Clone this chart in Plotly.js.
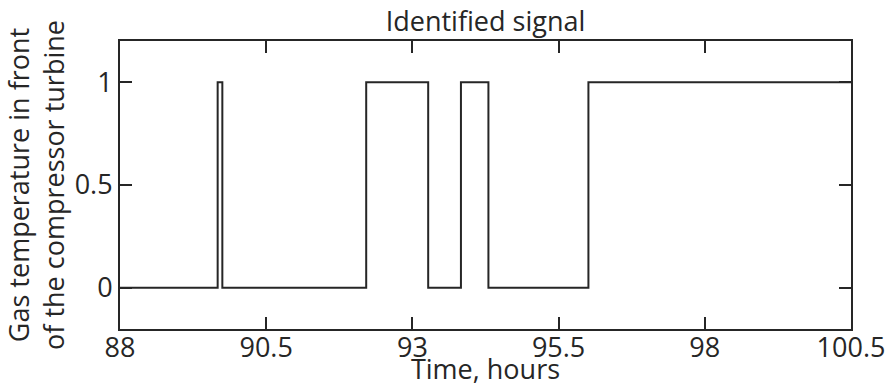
<!DOCTYPE html>
<html>
<head>
<meta charset="utf-8">
<script src="https://cdn.plot.ly/plotly-3.0.1.min.js"></script>
<style>html,body{margin:0;padding:0;background:#fff}#chart{width:892px;height:387px}</style>
</head>
<body>
<div id="chart"></div>
<script>
// Step signal: switch times (hours) and the state that starts at each time
var timeHours = [88, 89.67, 89.75, 92.21, 93.27, 93.83, 94.30, 96.01, 100.5];
var signalState = [0, 1, 0, 1, 0, 1, 0, 1, 1];
var xTickVals = [88, 90.5, 93, 95.5, 98, 100.5];
var xTickText = ["88", "90.5", "93", "95.5", "98", "100.5"];
var yTickVals = [0, 0.5, 1];
var yTickText = ["0", "0.5", "1"];

var FONT = "Open Sans, sans-serif";
var INK = "#262626";

var trace = {
  x: timeHours,
  y: signalState,
  type: "scatter",
  mode: "lines",
  line: {shape: "hv", color: INK, width: 2},
  hoverinfo: "x+y"
};

var layout = {
  width: 892,
  height: 387,
  margin: {l: 120, r: 41, t: 41, b: 58, pad: 0},
  paper_bgcolor: "#fff",
  plot_bgcolor: "#fff",
  showlegend: false,
  font: {family: FONT, size: 27, color: INK},
  title: {
    text: "Identified signal",
    font: {family: FONT, size: 27, color: INK},
    x: 0.5, xref: "paper", xanchor: "center",
    y: 1, yref: "paper", yanchor: "bottom",
    pad: {b: 10}
  },
  xaxis: {
    range: [88, 100.5],
    tickmode: "array",
    tickvals: xTickVals,
    ticktext: xTickText,
    ticks: "inside",
    ticklen: 12,
    tickwidth: 2,
    tickcolor: INK,
    ticklabelstandoff: -6,
    showline: true,
    linecolor: INK,
    linewidth: 2,
    mirror: "ticks",
    showgrid: false,
    zeroline: false,
    tickfont: {family: FONT, size: 27, color: INK},
    title: {text: "Time, hours", font: {family: FONT, size: 27, color: INK}, standoff: 0},
    automargin: false
  },
  yaxis: {
    range: [-0.2, 1.2],
    tickmode: "array",
    tickvals: yTickVals,
    ticktext: yTickText,
    ticks: "inside",
    ticklen: 12,
    tickwidth: 2,
    tickcolor: INK,
    showline: true,
    linecolor: INK,
    linewidth: 2,
    mirror: "ticks",
    showgrid: false,
    zeroline: false,
    tickfont: {family: FONT, size: 27, color: INK},
    title: {text: "Gas temperature in front<br>of the compressor turbine", font: {family: FONT, size: 27, color: INK}, standoff: 6},
    automargin: false
  }
};

Plotly.newPlot("chart", [trace], layout, {displayModeBar: false, staticPlot: true});
</script>
</body>
</html>
